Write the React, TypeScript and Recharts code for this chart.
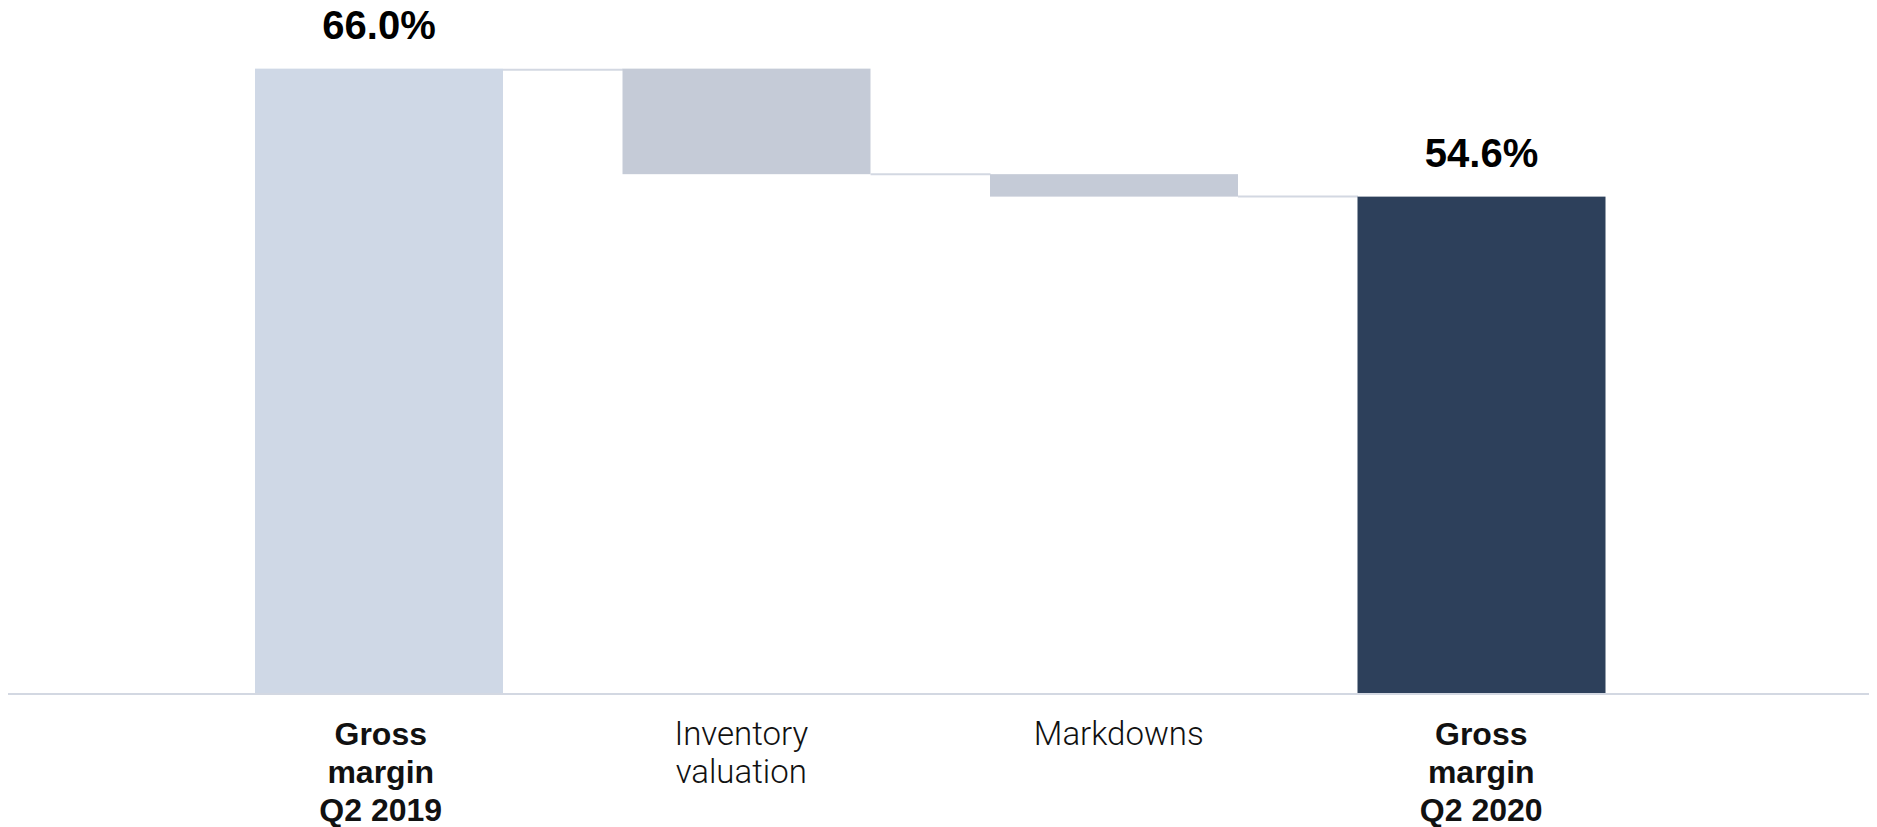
import React from 'react';
import { BarChart, Bar, XAxis, YAxis, LabelList, Cell } from 'recharts';

// ---- data ----
const categories = ['Gross margin Q2 2019', 'Inventory valuation', 'Markdowns', 'Gross margin Q2 2020'];
const tickLines = [['Gross', 'margin', 'Q2 2019'], ['Inventory', 'valuation'], ['Markdowns'], ['Gross', 'margin', 'Q2 2020']];
const startValue = 66.0;
const changes = [-9.4, -2.0];
const endValue = 54.6;
const valueLabels = ['66.0%', undefined, undefined, '54.6%'];
const kinds = ['total', 'change', 'change', 'total'];

// ---- styles ----
const COLORS = ['#CFD8E6', '#C5CBD7', '#C5CBD7', '#2D405B'];
const LINE = '#D3D8E2';
const CAT_GAP = 60;
const Y_DOMAIN: [number, number] = [10.3, 71.4];
const TICK_NUDGE = [2, -5, 5, 0];

// build waterfall rows
const rows: any[] = [];
let running = startValue;
rows.push({ name: categories[0], range: [0, startValue], level: startValue, kind: kinds[0], label: valueLabels[0] });
changes.forEach((c, i) => {
  const next = running + c;
  rows.push({
    name: categories[i + 1],
    range: [Math.min(running, next), Math.max(running, next)],
    level: next,
    kind: kinds[i + 1],
    label: valueLabels[i + 1],
  });
  running = next;
});
rows.push({ name: categories[categories.length - 1], range: [0, endValue], level: endValue, kind: kinds[kinds.length - 1], label: valueLabels[valueLabels.length - 1] });

function WaterfallShape(props: any) {
  const { x, y, width, height, index, payload, fill } = props;
  const top = Math.min(y, y + height);
  const bottom = Math.max(y, y + height);
  const ly = payload.level === payload.range[1] ? top + 1 : bottom;
  return (
    <g>
      <rect x={x} y={top} width={width} height={bottom - top} fill={fill} />
      {index < rows.length - 1 && (
        <line x1={x + width} x2={x + width + 2 * CAT_GAP} y1={ly} y2={ly} stroke={LINE} strokeWidth={2} />
      )}
    </g>
  );
}

function CategoryTick(props: any) {
  const { x, y, payload } = props;
  const i = categories.indexOf(payload.value);
  const lines = tickLines[i] || [payload.value];
  const bold = kinds[i] === 'total';
  const tx = x + (TICK_NUDGE[i] || 0);
  return (
    <text
      x={tx}
      y={y}
      textAnchor="middle"
      fill="#111"
      fontSize={bold ? 32 : 33}
      fontWeight={bold ? 700 : 300}
      fontFamily={bold ? '"Liberation Sans", Arial, sans-serif' : 'Roboto, "Liberation Sans", sans-serif'}
    >
      {lines.map((l, k) => (
        <tspan key={k} x={tx} dy={k === 0 ? 50.5 : 38}>
          {l}
        </tspan>
      ))}
    </text>
  );
}

export default function App() {
  return (
    <div style={{ width: 1877, height: 827, margin: '-8px 0 0 -8px', fontFamily: '"Liberation Sans", Arial, sans-serif' }}>
      <BarChart
        width={1877}
        height={827}
        data={rows}
        margin={{ top: 8, right: 0, bottom: 0, left: 8 }}
        barCategoryGap={CAT_GAP}
      >
        <XAxis
          dataKey="name"
          height={133}
          padding={{ left: 187, right: 212 }}
          tickLine={false}
          tickSize={0}
          tickMargin={0}
          interval={0}
          axisLine={{ stroke: LINE, strokeWidth: 2 }}
          tick={<CategoryTick />}
        />
        <YAxis hide domain={Y_DOMAIN} allowDataOverflow type="number" />
        <Bar dataKey="range" isAnimationActive={false} shape={<WaterfallShape />}>
          {rows.map((r, i) => (
            <Cell key={i} fill={COLORS[i]} />
          ))}
          <LabelList
            dataKey="label"
            position="top"
            offset={30}
            fill="#000"
            fontSize={40}
            fontWeight={700}
            fontFamily='"Liberation Sans", Arial, sans-serif'
          />
        </Bar>
      </BarChart>
    </div>
  );
}
